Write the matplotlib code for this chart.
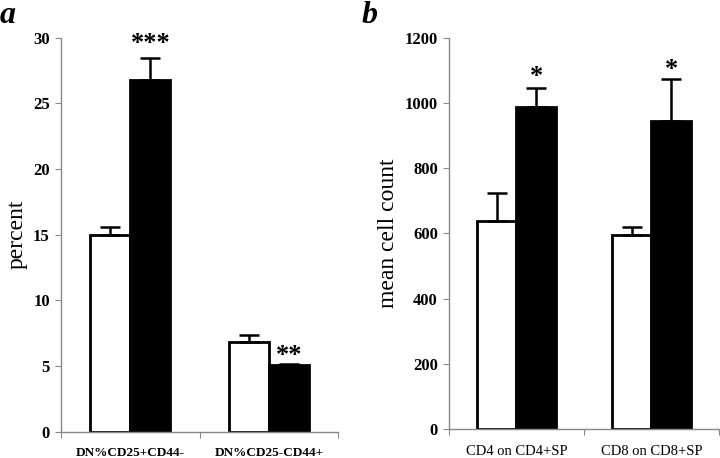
import matplotlib
matplotlib.use("Agg")
import matplotlib.pyplot as plt
import numpy as np

plt.rcParams['font.family'] = ['Liberation Serif', 'DejaVu Serif']

# Panel a
cats_a = ["DN%CD25+CD44-", "DN%CD25-CD44+"]
white_a = [15.0, 6.8]
white_a_err = [0.6, 0.55]
black_a = [26.8, 5.05]
black_a_err = [1.7, 0.12]
stars_a = ["***", "**"]
yticks_a = [0, 5, 10, 15, 20, 25, 30]

# Panel b
cats_b = ["CD4 on CD4+SP", "CD8 on CD8+SP"]
white_b = [639, 595]
white_b_err = [84, 24]
black_b = [988, 946]
black_b_err = [59, 127]
stars_b = ["*", "*"]
yticks_b = [0, 200, 400, 600, 800, 1000, 1200]

fig = plt.figure(figsize=(7.2, 4.58), dpi=100)
ax_a = fig.add_axes([0.0847, 0.0574, 0.385, 0.860])
ax_b = fig.add_axes([0.6236, 0.0627, 0.375, 0.855])

def draw(ax, cats, wv, we, bv, be, stars, yticks, ylabel, star_offsets, xlab_size, xlab_weight):
    x = np.arange(len(cats)) + 0.5
    w = 0.29
    ax.bar(x - w / 2, wv, w, color='white', edgecolor='black', linewidth=2.0, zorder=2)
    ax.bar(x + w / 2, bv, w, color='black', edgecolor='black', linewidth=2.0, zorder=2)
    ax.errorbar(x - w / 2, wv, yerr=[np.zeros(len(we)), we], fmt='none', ecolor='black',
                elinewidth=1.8, capsize=7, capthick=1.8, zorder=3)
    ax.errorbar(x + w / 2, bv, yerr=[np.zeros(len(be)), be], fmt='none', ecolor='black',
                elinewidth=1.8, capsize=7, capthick=1.8, zorder=3)
    for xi, v, e, s, off in zip(x, bv, be, stars, star_offsets):
        ax.annotate(s, (xi + w / 2, v + e), xytext=(0, off), textcoords='offset points',
                    ha='center', va='bottom', fontsize=19, fontweight='bold')
    ax.set_xlim(0, len(cats))
    ax.set_ylim(yticks[0], yticks[-1])
    ax.set_yticks(yticks)
    ax.set_xticks(np.arange(len(cats) + 1))
    ax.set_xticklabels([])
    ax.set_xticks(x, minor=True)
    ax.set_xticklabels(cats, minor=True, fontsize=xlab_size, fontweight=xlab_weight)
    ax.tick_params(axis='x', which='minor', length=0, pad=11)
    ax.tick_params(axis='x', which='major', length=4, color='#888888')
    ax.tick_params(axis='y', length=4, color='#888888', labelsize=12, pad=4)
    for lab in ax.get_yticklabels():
        lab.set_fontweight('bold')
    for sp in ['top', 'right']:
        ax.spines[sp].set_visible(False)
    for sp in ['left', 'bottom']:
        ax.spines[sp].set_color('#888888')
        ax.spines[sp].set_linewidth(1.0)
    ax.set_ylabel(ylabel, fontsize=17)

draw(ax_a, cats_a, white_a, white_a_err, black_a, black_a_err, stars_a, yticks_a, "percent",
     [1.5, -2], 9.5, 'bold')
draw(ax_b, cats_b, white_b, white_b_err, black_b, black_b_err, stars_b, yticks_b, "mean cell count",
     [0, -1], 10.5, 'normal')

fig.text(0.0, 0.95, "a", fontsize=23, fontweight='bold', fontstyle='italic', va='baseline', ha='left')
fig.text(0.502, 0.95, "b", fontsize=23, fontweight='bold', fontstyle='italic', va='baseline', ha='left')

fig.savefig("out.png", dpi=100)
